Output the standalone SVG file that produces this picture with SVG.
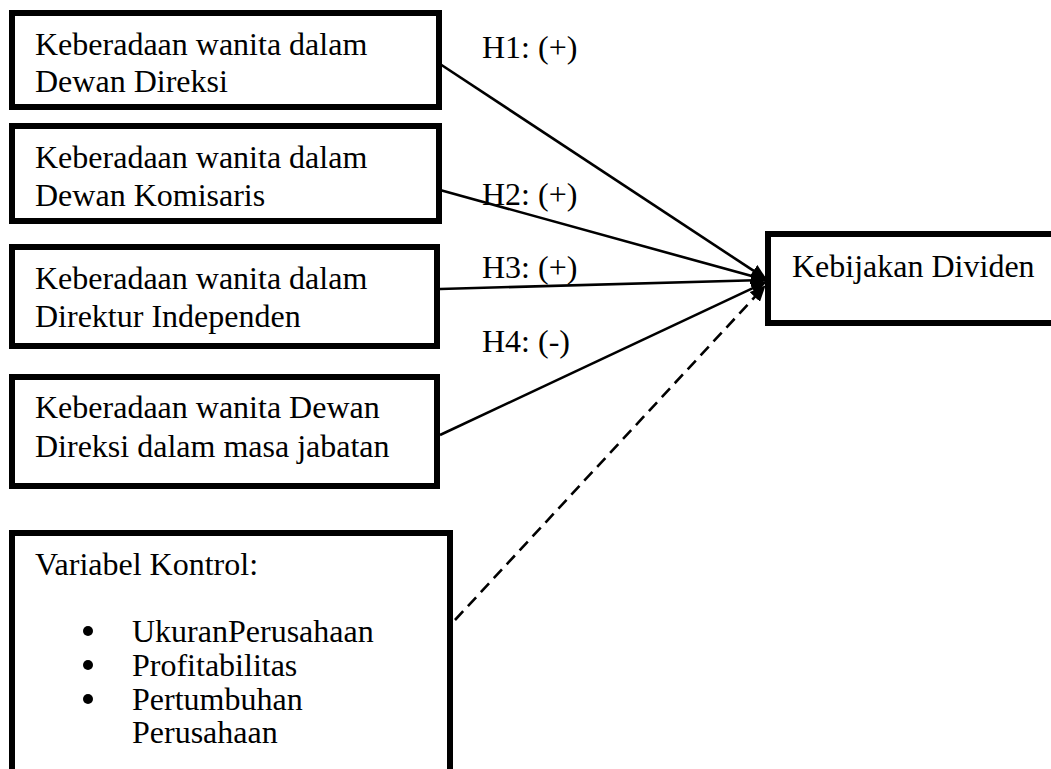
<svg xmlns="http://www.w3.org/2000/svg" width="1051" height="769" viewBox="0 0 1051 769">
<style>
.box{fill:#fff;stroke:#000;stroke-width:6}
.t{font-family:"Liberation Serif","Times New Roman",serif;font-size:32px;fill:#000}
.ln{stroke:#000;stroke-width:2.6;fill:none}
.dash{stroke-dasharray:12 7}
</style>
<defs>
<marker id="ah" viewBox="0 0 16 14" refX="15" refY="7" markerWidth="16" markerHeight="14" markerUnits="userSpaceOnUse" orient="auto">
<path d="M0,0 L16,7 L0,14 Z" fill="#000"/>
</marker>
</defs>
<rect width="1051" height="769" fill="#fff"/>
<g id="n1"><rect class="box" x="12" y="13" width="427" height="94"/>
<text class="t" x="35" y="55">Keberadaan wanita dalam</text>
<text class="t" x="35" y="92">Dewan Direksi</text></g>
<g id="n2"><rect class="box" x="12" y="126" width="427" height="95"/>
<text class="t" x="35" y="168">Keberadaan wanita dalam</text>
<text class="t" x="35" y="206">Dewan Komisaris</text></g>
<g id="n3"><rect class="box" x="12" y="247" width="425" height="99"/>
<text class="t" x="35" y="289">Keberadaan wanita dalam</text>
<text class="t" x="35" y="327">Direktur Independen</text></g>
<g id="n4"><rect class="box" x="12" y="377" width="425" height="109"/>
<text class="t" x="35" y="418">Keberadaan wanita Dewan</text>
<text class="t" x="35" y="457">Direksi dalam masa jabatan</text></g>
<g id="n5"><rect class="box" x="12" y="533" width="438" height="280"/>
<text class="t" x="35" y="575">Variabel Kontrol:</text>
<circle cx="88" cy="631" r="5"/><text class="t" x="132" y="642">UkuranPerusahaan</text>
<circle cx="88" cy="665" r="5"/><text class="t" x="132" y="676">Profitabilitas</text>
<circle cx="88" cy="699" r="5"/><text class="t" x="132" y="710">Pertumbuhan</text>
<text class="t" x="132" y="743">Perusahaan</text></g>
<g id="n6"><rect class="box" x="768" y="234" width="300" height="89"/>
<text class="t" x="792" y="277">Kebijakan Dividen</text></g>
<g id="edges">
<line class="ln" x1="440" y1="64" x2="766" y2="279" marker-end="url(#ah)"/>
<line class="ln" x1="440" y1="190" x2="766" y2="280" marker-end="url(#ah)"/>
<line class="ln" x1="440" y1="289" x2="766" y2="280" marker-end="url(#ah)"/>
<line class="ln" x1="440" y1="435" x2="766" y2="282" marker-end="url(#ah)"/>
<line class="ln dash" x1="455" y1="620" x2="765" y2="286" marker-end="url(#ah)"/>
</g>
<g id="labels">
<text class="t" x="482" y="58">H1: (+)</text>
<text class="t" x="482" y="205">H2: (+)</text>
<text class="t" x="482" y="278">H3: (+)</text>
<text class="t" x="482" y="352">H4: (-)</text>
</g>
</svg>
